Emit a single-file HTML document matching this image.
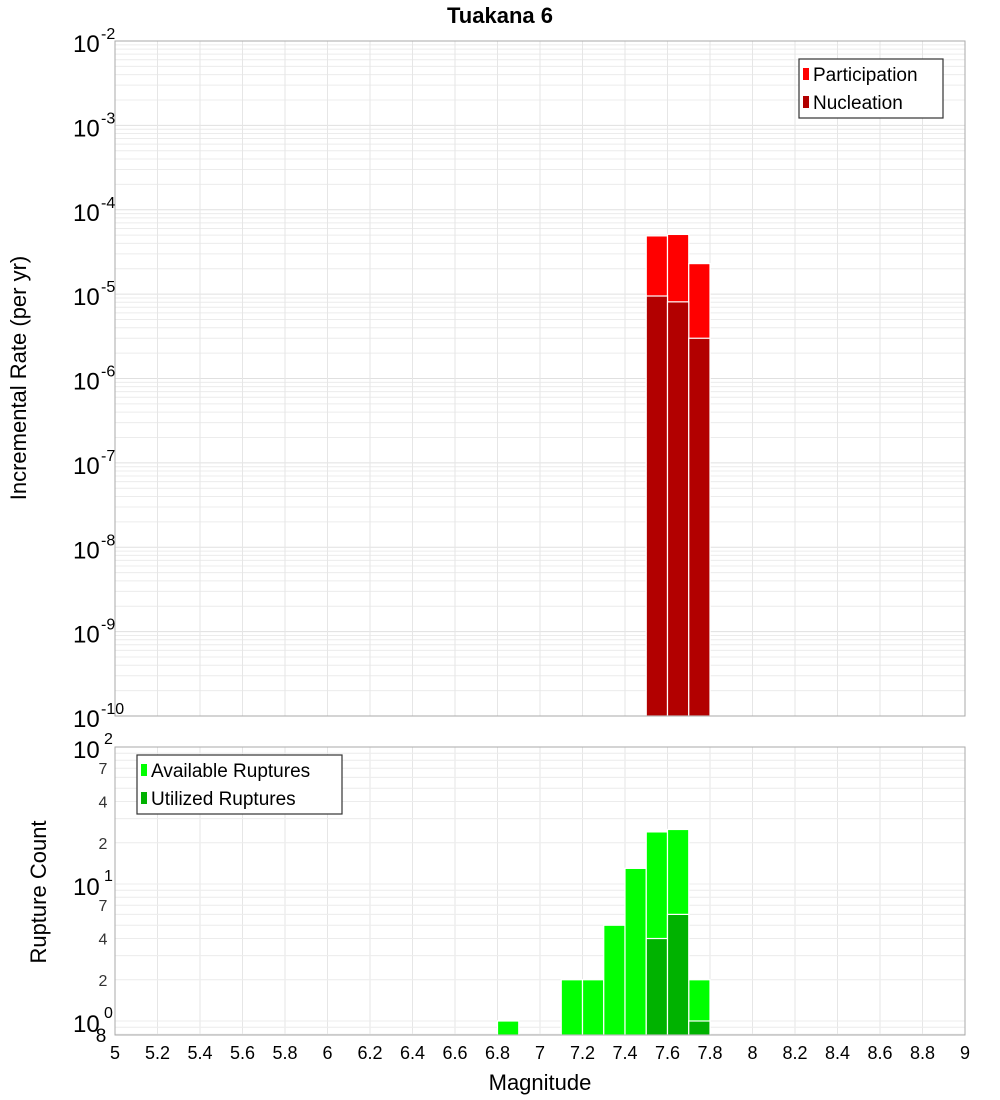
<!DOCTYPE html>
<html><head><meta charset="utf-8"><style>
body{margin:0;background:#fff}
svg{display:block;font-family:"Liberation Sans","DejaVu Sans",sans-serif}
</style></head><body>
<svg id="c" width="1000" height="1100" xmlns="http://www.w3.org/2000/svg"></svg>
<script>
const binCenters=[7.55,7.65,7.75];
const participation=[4.9e-5,5.1e-5,2.3e-5];
const nucleation=[9.5e-6,8.1e-6,3.0e-6];
const countBins=[6.85,7.15,7.25,7.35,7.45,7.55,7.65,7.75];
const available=[1,2,2,5,13,24,25,2];
const utilizedBins=[7.55,7.65,7.75];
const utilized=[4,6,1];
const xTicks=[5,5.2,5.4,5.6,5.8,6,6.2,6.4,6.6,6.8,7,7.2,7.4,7.6,7.8,8,8.2,8.4,8.6,8.8,9];
const topExps=[-2,-3,-4,-5,-6,-7,-8,-9,-10];
const botMinor=[7,4,2];

const svg=document.getElementById('c');
const NS='http://www.w3.org/2000/svg';
function mk(t,a,p){const e=document.createElementNS(NS,t);for(const k in a)e.setAttribute(k,a[k]);(p||svg).appendChild(e);return e;}
const X0=115,X1=965;
const xs=v=>X0+(v-5)/4*(X1-X0);
const T0=41,T1=716;
const ys=v=>T0+(-2-Math.log10(v))/8*(T1-T0);
const B0=747,DEC=137,ONE=1021,B1=1035;
const yb=v=>ONE-Math.log10(v)*DEC;

// title
let t=mk('text',{x:500,y:23,'text-anchor':'middle','font-size':22,'font-weight':'bold'});t.textContent='Tuakana 6';


// top grid
let g=mk('g',{});
for(let e=-10;e<-2;e++)for(let m=1;m<10;m++){const y=ys(m*Math.pow(10,e));mk('line',{x1:X0,x2:X1,y1:y,y2:y,stroke:m==1?'#e0e0e0':'#ececec','stroke-width':1},g);}
for(const v of xTicks){mk('line',{x1:xs(v),x2:xs(v),y1:T0,y2:T1,stroke:'#e6e6e6'},g);mk('line',{x1:xs(v),x2:xs(v),y1:B0,y2:B1,stroke:'#e6e6e6'},g);}
// bottom grid
for(let e=-1;e<2;e++)for(let m=1;m<10;m++){const v=m*Math.pow(10,e);if(v<0.79)continue;const y=yb(v);mk('line',{x1:X0,x2:X1,y1:y,y2:y,stroke:'#ececec'},g);}
mk('line',{x1:X0,x2:X1,y1:yb(100),y2:yb(100),stroke:'#e0e0e0'},g);

// top bars
const bw=0.1;
binCenters.forEach((c,i)=>{
 let r=mk('rect',{x:xs(c-bw/2),y:ys(participation[i]),width:xs(c+bw/2)-xs(c-bw/2),height:T1-ys(participation[i]),fill:'#ff0000',stroke:'#fff','stroke-width':1.2});
 
});
binCenters.forEach((c,i)=>{
 let r=mk('rect',{x:xs(c-bw/2),y:ys(nucleation[i]),width:xs(c+bw/2)-xs(c-bw/2),height:T1-ys(nucleation[i]),fill:'#b20000',stroke:'#fff','stroke-width':1.2});
 
});
// bottom bars
countBins.forEach((c,i)=>{
 let r=mk('rect',{x:xs(c-bw/2),y:yb(available[i]),width:xs(c+bw/2)-xs(c-bw/2),height:B1-yb(available[i]),fill:'#00ff00',stroke:'#fff','stroke-width':1.2});
 
});
utilizedBins.forEach((c,i)=>{
 let r=mk('rect',{x:xs(c-bw/2),y:yb(utilized[i]),width:xs(c+bw/2)-xs(c-bw/2),height:B1-yb(utilized[i]),fill:'#00b200',stroke:'#fff','stroke-width':1.2});
 
});

// frames
let f1=mk('rect',{x:X0,y:T0,width:X1-X0,height:T1-T0,fill:'none',stroke:'#aaa'});
let f2=mk('rect',{x:X0,y:B0,width:X1-X0,height:B1-B0,fill:'none',stroke:'#aaa'});

// top y labels
for(const e of topExps){const y=ys(Math.pow(10,e));
 let tx=mk('text',{x:73,y:y+11,'font-size':24});tx.textContent='10';
 
 let sp=mk('text',{x:101,y:y-2,'font-size':16});sp.textContent=String(e);
 
}
// bottom y labels
[[2,100],[1,10],[0,1]].forEach(([e,v])=>{const y=yb(v);
 let tx=mk('text',{x:73,y:y+11,'font-size':24});tx.textContent='10';
 
 let sp=mk('text',{x:104,y:y-3,'font-size':16});sp.textContent=String(e);
 
});
for(const d of [10,1])for(const m of botMinor){const y=yb(m*d);
 let tx=mk('text',{x:103,y:y+6,'font-size':16,'text-anchor':'middle',fill:'#333'});tx.textContent=String(m);
 }
let e8=mk('text',{x:101,y:1042,'font-size':19,'text-anchor':'middle'});e8.textContent='8';


// x labels
for(const v of xTicks){let tx=mk('text',{x:xs(v),y:1059,'font-size':18,'text-anchor':'middle'});tx.textContent=String(v);
 }

// axis titles
let a1=mk('text',{x:0,y:0,'font-size':22,'text-anchor':'middle',transform:'translate(26,378) rotate(-90)'});a1.textContent='Incremental Rate (per yr)';

let a2=mk('text',{x:0,y:0,'font-size':22,'text-anchor':'middle',transform:'translate(46,892) rotate(-90)'});a2.textContent='Rupture Count';

let a3=mk('text',{x:540,y:1090,'font-size':22,'text-anchor':'middle'});a3.textContent='Magnitude';


// legends
function legend(x,y,w,h,items,name){
 let lg=mk('g',{});
 mk('rect',{x:x,y:y,width:w,height:h,fill:'#fff',stroke:'#333','stroke-width':1.2},lg);
 items.forEach((it,i)=>{const yy=y+15+i*28;
  let s=mk('rect',{x:x+4,y:yy-6,width:6,height:12,fill:it[1]},lg);
  let tx=mk('text',{x:x+14,y:yy+7,'font-size':19},lg);tx.textContent=it[0];
 });
}
legend(799,59,144,59,[['Participation','#ff0000'],['Nucleation','#b20000']],'top-legend');
legend(137,755,205,59,[['Available Ruptures','#00ff00'],['Utilized Ruptures','#00b200']],'bottom-legend');
</script>
</body></html>
